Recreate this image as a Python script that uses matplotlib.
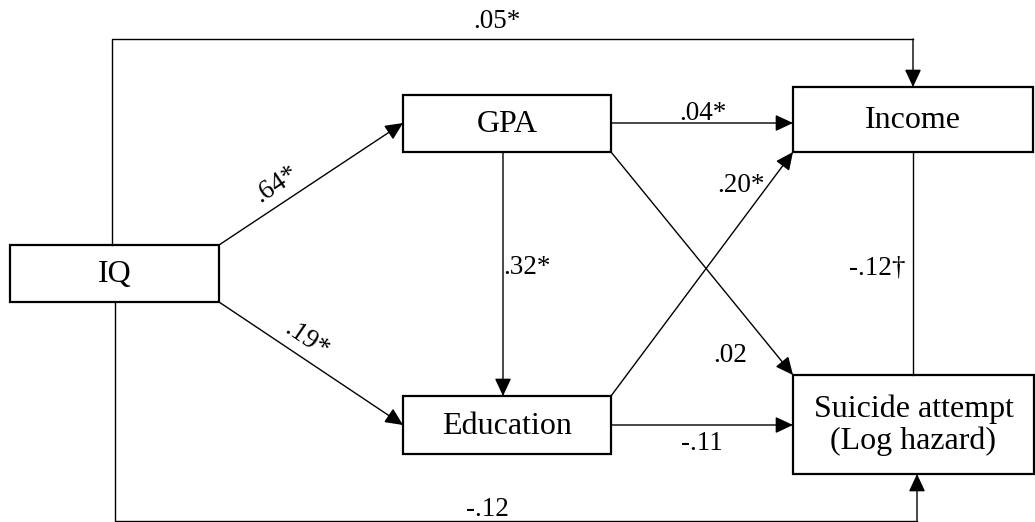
import matplotlib.pyplot as plt
from matplotlib.patches import Rectangle

plt.rcParams['font.family'] = ['Liberation Serif', 'DejaVu Serif']

# variables in the path model
nodes = ['IQ', 'GPA', 'Income', 'Education', 'Suicide attempt\n(Log hazard)']
# path coefficients
coef = {
    'IQ-GPA': '.64*',
    'IQ-Education': '.19*',
    'IQ-Income': '.05*',
    'IQ-Suicide': '-.12',
    'GPA-Education': '.32*',
    'GPA-Income': '.04*',
    'GPA-Suicide': '.02',
    'Education-Income': '.20*',
    'Education-Suicide': '-.11',
    'Income-Suicide': '-.12\u2020',
}

# box geometry in pixels: x0, y0 (top), x1, y1 (bottom)
boxes = {
    'IQ': (10, 245, 219, 302),
    'GPA': (403, 95, 611, 152),
    'Income': (793, 87, 1033, 152),
    'Education': (403, 396, 611, 454),
    'Suicide attempt\n(Log hazard)': (793, 375, 1034, 474),
}

fig = plt.figure(figsize=(10.35, 5.22), dpi=100)
ax = fig.add_axes([0, 0, 1, 1])
ax.set_xlim(0, 1035)
ax.set_ylim(522, 0)
ax.axis('off')

for name in nodes:
    x0, y0, x1, y1 = boxes[name]
    ax.add_patch(Rectangle((x0, y0), x1 - x0, y1 - y0, fill=False, lw=1.6, ec='black', zorder=3))
    ax.text((x0 + x1) / 2, (y0 + y1) / 2 + 1, name, ha='center', va='center',
            fontsize=23, linespacing=1.12, zorder=4)


def arrow(p0, p1):
    ax.annotate('', xy=p1, xytext=p0,
                arrowprops=dict(arrowstyle='-|>,head_length=0.75,head_width=0.35', mutation_scale=14.4,
                                lw=1, color='black', shrinkA=0, shrinkB=0))


def line(xs, ys):
    ax.plot(xs, ys, color='black', lw=1)


# IQ -> Income over the top
line([112, 112, 913], [245, 39, 39])
arrow((913, 39), (913, 87))
# IQ -> Suicide along the bottom
line([115, 115, 917], [302, 520.5, 520.5])
arrow((917, 520.5), (917, 474))
# direct paths
arrow((219, 245), (403, 123))
arrow((219, 302), (403, 425))
arrow((503, 152), (503, 396))
arrow((611, 123), (793, 123))
arrow((611, 152), (793, 375))
arrow((611, 396), (793, 152))
arrow((611, 425), (793, 425))
line([913, 913], [152, 375])

fs = 19.5
ax.text(497, 22, coef['IQ-Income'], ha='center', va='center', fontsize=fs)
ax.text(276, 184, coef['IQ-GPA'], ha='center', va='center', fontsize=fs, rotation=34)
ax.text(307, 340, coef['IQ-Education'], ha='center', va='center', fontsize=fs, rotation=-34)
ax.text(527, 267, coef['GPA-Education'], ha='center', va='center', fontsize=fs)
ax.text(703, 113, coef['GPA-Income'], ha='center', va='center', fontsize=fs)
ax.text(741, 186, coef['Education-Income'], ha='center', va='center', fontsize=fs)
ax.text(730, 355, coef['GPA-Suicide'], ha='center', va='center', fontsize=fs)
ax.text(702, 443, coef['Education-Suicide'], ha='center', va='center', fontsize=fs)
ax.text(877, 268, coef['Income-Suicide'], ha='center', va='center', fontsize=fs)
ax.text(487, 510, coef['IQ-Suicide'], ha='center', va='center', fontsize=fs)

fig.savefig('out.png', dpi=100)
